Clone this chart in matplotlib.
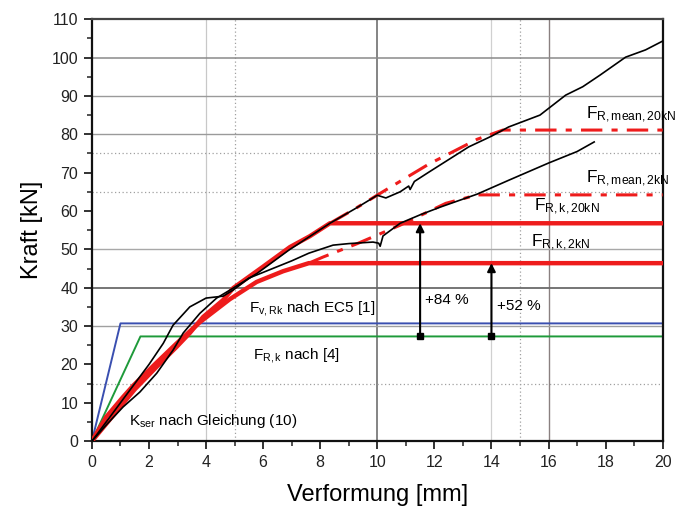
import matplotlib
matplotlib.use("Agg")
import matplotlib.pyplot as plt
from matplotlib.ticker import MultipleLocator

plt.rcParams["font.family"] = ["Liberation Sans", "DejaVu Sans"]
plt.rcParams["mathtext.fontset"] = "custom"
plt.rcParams["mathtext.rm"] = "Liberation Sans"
plt.rcParams["mathtext.it"] = "Liberation Sans"

# --- Measured load-deformation curves (test specimens) ---
test_a_u = [0.0, 0.5, 1.09, 1.68, 2.27, 2.84, 3.2, 3.78, 4.37, 4.95, 5.8, 6.9, 7.6, 8.34,
            9.2, 10.0, 10.3, 10.8, 11.1, 11.15, 11.3, 11.8, 12.5, 13.2, 14.0, 14.6, 15.7,
            16.6, 17.2, 17.8, 18.7, 19.4, 20.0]
test_a_f = [0.0, 4.2, 8.9, 12.8, 17.7, 23.7, 28.2, 33.3, 37.3, 39.9, 43.8, 49.8, 53.2, 56.8,
            60.5, 64.1, 63.4, 65.0, 66.5, 65.6, 67.7, 70.1, 73.4, 76.7, 79.5, 81.9, 85.0,
            90.2, 92.4, 95.4, 100.1, 102.0, 104.3]

test_b_u = [0.0, 0.5, 1.0, 1.5, 2.0, 2.5, 2.84, 3.43, 4.0, 4.6, 4.95, 5.5, 6.0, 6.5, 7.0,
            7.6, 8.45, 9.0, 9.85, 10.05, 10.1, 10.2, 10.8, 11.5, 12.2, 13.5, 14.6, 16.0,
            17.0, 17.6]
test_b_f = [0.0, 5.0, 10.0, 15.0, 20.0, 25.5, 30.2, 35.0, 37.3, 37.8, 39.4, 42.5, 44.0, 45.5,
            47.0, 49.0, 51.1, 51.5, 51.9, 51.6, 50.8, 53.5, 56.8, 59.0, 61.0, 64.4, 68.0,
            72.5, 75.5, 78.0]

# --- Model curves up to the characteristic load level ---
model_k20_u = [0.0, 0.5, 1.0, 1.5, 2.27, 2.97, 3.43, 3.9, 4.6, 4.95, 6.0, 6.94, 7.63, 8.34, 20.0]
model_k20_f = [0.0, 4.5, 9.0, 13.5, 19.4, 24.6, 28.2, 32.4, 36.8, 39.9, 45.5, 50.6, 53.4, 56.8, 56.8]

model_k2_u = [0.0, 0.5, 1.09, 1.45, 2.27, 2.97, 3.78, 4.83, 5.77, 6.7, 7.6, 20.0]
model_k2_f = [0.0, 6.3, 11.5, 14.5, 20.5, 25.5, 31.0, 37.0, 41.5, 44.3, 46.4, 46.4]

# --- Model curves continued up to the mean load level ---
model_m20_u = [8.34, 9.2, 10.3, 11.8, 13.5, 14.4, 20.0]
model_m20_f = [56.8, 60.5, 65.5, 72.2, 78.7, 81.1, 81.1]

model_m2_u = [7.6, 8.1, 9.3, 10.8, 12.4, 13.5, 20.0]
model_m2_f = [46.4, 48.0, 51.5, 56.3, 62.0, 64.2, 64.2]

# --- Code-based bilinear approaches ---
ec5_u = [0.0, 1.0, 20.0]
ec5_f = [0.0, 30.7, 30.7]

ref4_u = [0.0, 1.7, 20.0]
ref4_f = [0.0, 27.3, 27.3]

# --- Increase markers ---
arrow_u = [11.5, 14.0]
arrow_from = [27.3, 27.3]
arrow_to = [56.8, 46.4]
arrow_text = ["+84 %", "+52 %"]

x_ticks = list(range(0, 21, 2))
y_ticks = list(range(0, 111, 10))

fig = plt.figure(figsize=(6.86, 5.19), dpi=100)
ax = fig.add_axes([0.134, 0.150, 0.832, 0.813])

# background grid
for u, c, ls, lw in [(4, "#c8c8c8", "-", 0.9), (5, "#a0a0a0", (0, (1, 2)), 0.9),
                     (10, "#707070", "-", 1.2), (14, "#d0d0d0", "-", 0.9),
                     (15, "#a0a0a0", (0, (1, 2)), 0.9), (16, "#8a8080", "-", 1.0)]:
    ax.axvline(u, color=c, ls=ls, lw=lw, zorder=0)
for f, c, ls, lw in [(100, "#8a8a8a", "-", 1.1), (90, "#9a9a9a", "-", 1.0),
                     (80, "#9a9a9a", "-", 1.0), (75, "#a0a0a0", (0, (1, 2)), 0.9),
                     (65, "#a0a0a0", (0, (1, 2)), 0.9), (50, "#a8a8a8", "-", 1.0),
                     (40, "#6a6a6a", "-", 1.3), (30, "#a0a0a0", "-", 1.0),
                     (15, "#a0a0a0", (0, (1, 2)), 0.9)]:
    ax.axhline(f, color=c, ls=ls, lw=lw, zorder=0)

red = "#ee1c1c"
ax.plot(ec5_u, ec5_f, color="#3a4fb0", lw=1.4, zorder=2)
ax.plot(ref4_u, ref4_f, color="#1e9a3a", lw=1.4, zorder=2)
ax.plot(model_k20_u, model_k20_f, color=red, lw=3.2, zorder=3)
ax.plot(model_k2_u, model_k2_f, color=red, lw=3.2, zorder=3)
ax.plot(model_m20_u, model_m20_f, color=red, lw=2.2, ls=(0, (7, 3, 2, 3)), zorder=3)
ax.plot(model_m2_u, model_m2_f, color=red, lw=2.2, ls=(0, (7, 3, 2, 3)), zorder=3)
ax.plot(test_a_u, test_a_f, color="black", lw=1.2, zorder=4)
ax.plot(test_b_u, test_b_f, color="black", lw=1.2, zorder=4)

text_f = [36.8, 35.2]
for u, f0, f1, t, tf in zip(arrow_u, arrow_from, arrow_to, arrow_text, text_f):
    ax.annotate("", xy=(u, f1), xytext=(u, f0),
                arrowprops=dict(arrowstyle="-|>", color="black", lw=1.5,
                                mutation_scale=12, shrinkA=0, shrinkB=0), zorder=5)
    ax.plot([u], [f0], marker="s", ms=4, color="black", zorder=5)
    ax.text(u + 0.18, tf, t, fontsize=11, va="center", ha="left")

ax.text(5.5, 34.6, r"$\mathrm{F_{v,Rk}}$ nach EC5 [1]", fontsize=11, va="center")
ax.text(5.65, 22.4, r"$\mathrm{F_{R,k}}$ nach [4]", fontsize=11, va="center")
ax.text(1.3, 5.3, r"$\mathrm{K_{ser}}$ nach Gleichung (10)", fontsize=11, va="center")
ax.text(17.3, 85.0, r"$\mathrm{F_{R,mean,20kN}}$", fontsize=12.5, va="center")
ax.text(17.3, 68.5, r"$\mathrm{F_{R,mean,2kN}}$", fontsize=12.5, va="center")
ax.text(15.5, 61.0, r"$\mathrm{F_{R,k,20kN}}$", fontsize=12.5, va="center")
ax.text(15.4, 51.6, r"$\mathrm{F_{R,k,2kN}}$", fontsize=12.5, va="center")

ax.set_xlim(0, 20)
ax.set_ylim(0, 110)
ax.set_xticks(x_ticks)
ax.set_yticks(y_ticks)
ax.xaxis.set_minor_locator(MultipleLocator(1))
ax.yaxis.set_minor_locator(MultipleLocator(5))
ax.tick_params(which="major", direction="out", length=6, width=1.3, labelsize=11.5,
               colors="#222222", pad=4)
ax.tick_params(which="minor", direction="out", length=3.5, width=1.1, colors="#222222")
ax.tick_params(top=False, right=False)

for s in ["left", "bottom", "right"]:
    ax.spines[s].set_linewidth(1.6)
    ax.spines[s].set_color("#111111")
ax.spines["top"].set_linewidth(1.6)
ax.spines["top"].set_color("#444444")

ax.set_xlabel("Verformung [mm]", fontsize=17, labelpad=10)
ax.set_ylabel("Kraft [kN]", fontsize=17, labelpad=6)

fig.savefig("out.png", dpi=100)
